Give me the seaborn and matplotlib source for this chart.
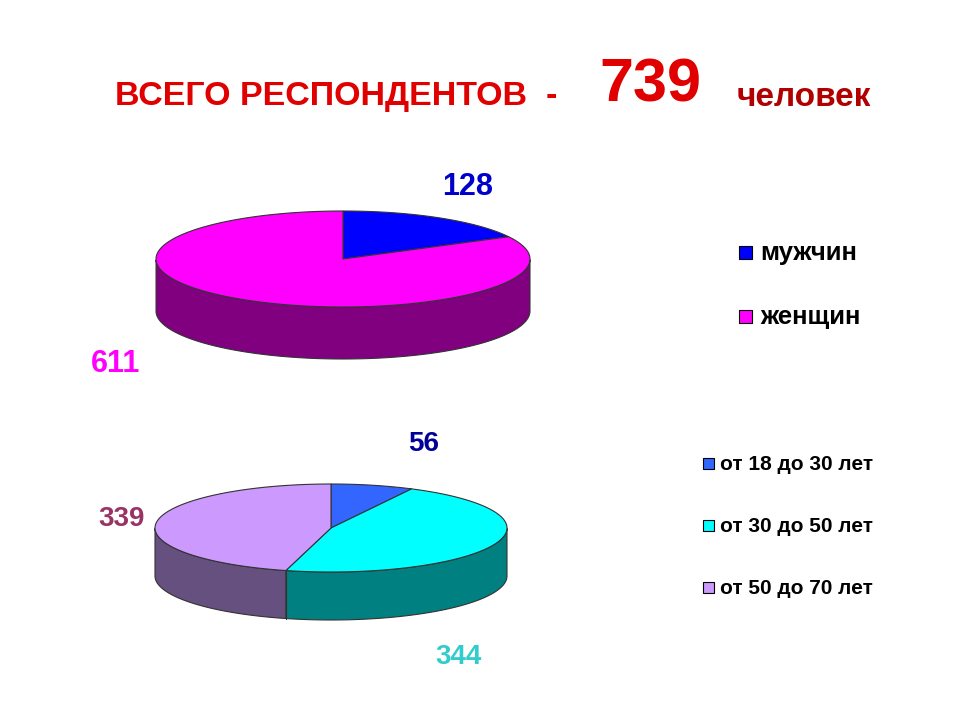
import numpy as np
import matplotlib
matplotlib.use("Agg")
import matplotlib.pyplot as plt
import seaborn as sns
from matplotlib.patches import Polygon

sns.set_theme(style="white")
plt.rcParams['font.family'] = ['Liberation Sans', 'DejaVu Sans']

gender_labels = ["мужчин", "женщин"]
gender_values = [128, 611]
age_labels = ["от 18 до 30 лет", "от 30 до 50 лет", "от 50 до 70 лет"]
age_values = [56, 344, 339]

gender_top = ["#0000FF", "#FF00FF"]
gender_side = ["#000080", "#800080"]
age_top = ["#3366FF", "#00FFFF", "#CC99FF"]
age_side = ["#1A33A0", "#008080", "#665080"]

fig = plt.figure(figsize=(9.6, 7.2), dpi=100)
ax = fig.add_axes([0, 0, 1, 1])
ax.set_xlim(0, 960)
ax.set_ylim(720, 0)
ax.axis("off")

def pie3d(values, cx, cy, rx, ry, depth, tops, sides):
    total = sum(values)
    start = 90.0
    spans = []
    for v in values:
        end = start - 360.0 * v / total
        spans.append((start, end))
        start = end
    for (a0, a1), sc in zip(spans, sides):
        th = np.linspace(a0, a1, 200)
        thm = np.mod(th, 360)
        mask = (thm >= 180) & (thm <= 360)
        if mask.sum() < 2:
            continue
        t = np.radians(th[mask])
        x = cx + rx * np.cos(t)
        y = cy - ry * np.sin(t)
        pts = np.concatenate([np.c_[x, y], np.c_[x[::-1], y[::-1] + depth]])
        ax.add_patch(Polygon(pts, closed=True, fc=sc, ec="#333333", lw=0.8))
    for (a0, a1) in spans:
        a = np.mod(a0, 360)
        if 180 < a < 360:
            x = cx + rx * np.cos(np.radians(a))
            y = cy - ry * np.sin(np.radians(a))
            ax.plot([x, x], [y, y + depth], color="#333333", lw=0.8)
    for (a0, a1), tc in zip(spans, tops):
        t = np.radians(np.linspace(a0, a1, 200))
        x = cx + rx * np.cos(t)
        y = cy - ry * np.sin(t)
        pts = np.concatenate([[[cx, cy]], np.c_[x, y]])
        ax.add_patch(Polygon(pts, closed=True, fc=tc, ec="#333333", lw=0.8))

pie3d(gender_values, 343, 259, 187, 48, 52, gender_top, gender_side)
pie3d(age_values, 331, 528, 176, 44, 48, age_top, age_side)

ax.text(468, 187, str(gender_values[0]), color="#0000CC", fontsize=22, fontweight="bold", ha="center", va="center")
ax.text(116, 364, str(gender_values[1]), color="#FF00FF", fontsize=22, fontweight="bold", ha="center", va="center")
ax.text(424, 444, str(age_values[0]), color="#000099", fontsize=20, fontweight="bold", ha="center", va="center")
ax.text(458, 657, str(age_values[1]), color="#33CCCC", fontsize=20, fontweight="bold", ha="center", va="center")
ax.text(122, 519, str(age_values[2]), color="#993366", fontsize=20, fontweight="bold", ha="center", va="center")

ax.text(115, 97, "ВСЕГО РЕСПОНДЕНТОВ  -", color="#E00000", fontsize=24.5, fontweight="bold", ha="left", va="center")
ax.text(650, 86, "739", color="#E00000", fontsize=44, fontweight="bold", ha="center", va="center")
ax.text(737, 97, "человек", color="#B00000", fontsize=24, fontweight="bold", ha="left", va="center")

for i, (lab, c) in enumerate(zip(gender_labels, gender_top)):
    y = 253 + i * 64
    ax.add_patch(plt.Rectangle((739, y - 7), 13, 13, fc=c, ec="black", lw=0.8))
    ax.text(760, y, lab, fontsize=18.5, fontweight="bold", va="center", color="black")
for i, (lab, c) in enumerate(zip(age_labels, age_top)):
    y = 464 + i * 62
    ax.add_patch(plt.Rectangle((703, y - 6), 11, 11, fc=c, ec="black", lw=0.8))
    ax.text(720, y, lab, fontsize=15, fontweight="bold", va="center", color="black")

fig.savefig("out.png", dpi=100, facecolor="white")
